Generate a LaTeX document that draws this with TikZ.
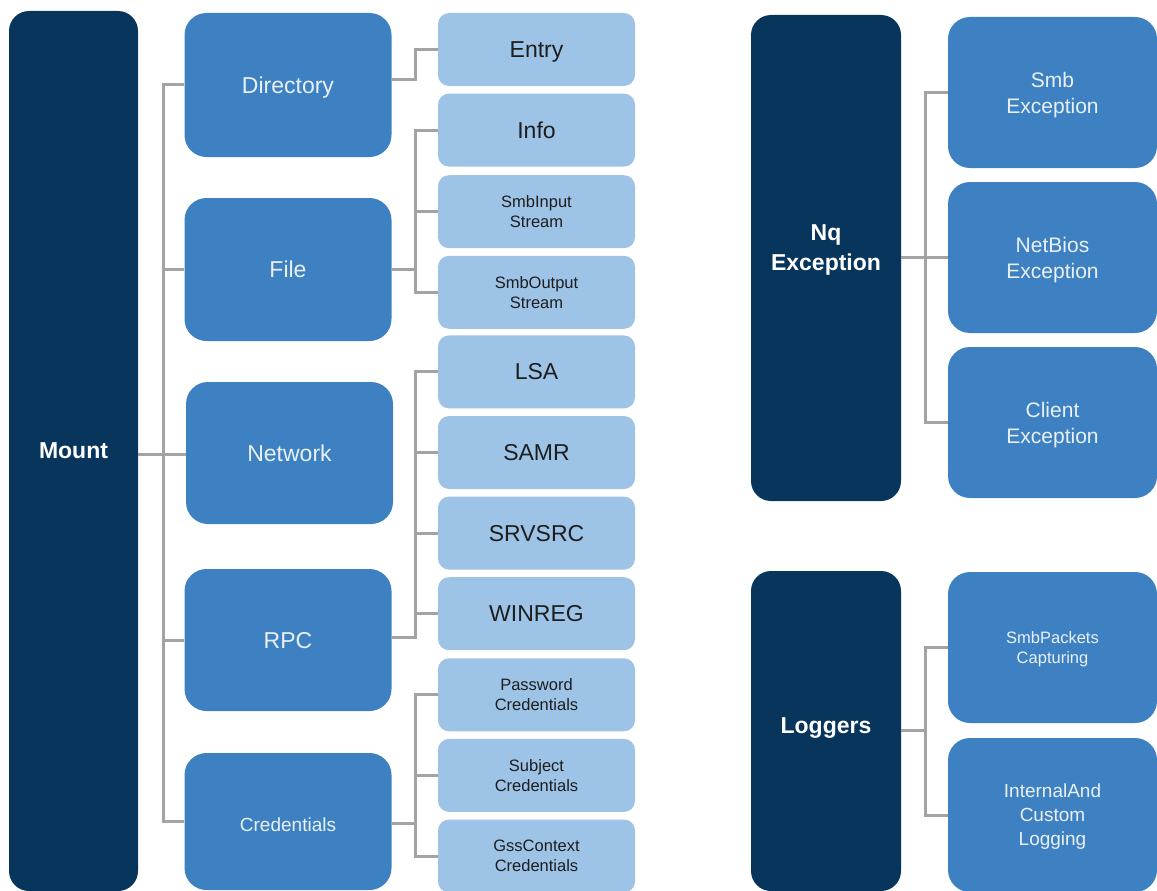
\documentclass[tikz,border=0pt]{standalone}
\usepackage{fontspec}
\setmainfont{Liberation Sans}
\definecolor{navy}{HTML}{08355C}
\definecolor{midblue}{HTML}{3D81C2}
\definecolor{lightblue}{HTML}{9DC3E6}
\definecolor{linegrey}{HTML}{A3A3A3}
\definecolor{midtext}{HTML}{EAF0F6}
\definecolor{lighttext}{HTML}{1E1E1E}
\tikzset{
  box/.style={rectangle, inner sep=0pt, align=center},
  darkbox/.style={box, fill=navy, text=white, rounded corners=20pt, font=\bfseries\fontsize{23}{30}\selectfont},
  midbox/.style={box, fill=midblue, text=midtext, rounded corners=22pt, minimum width=207pt, text depth=0pt},
  lightbox/.style={box, fill=lightblue, text=lighttext, rounded corners=11pt, minimum width=197pt, minimum height=73pt, text depth=0pt},
  conn/.style={draw=linegrey, line width=3pt},
  big/.style={font=\fontsize{23}{27}\selectfont},
  med/.style={font=\fontsize{19}{24}\selectfont},
  small/.style={font=\fontsize{16.5}{20}\selectfont},
  rfont/.style={font=\fontsize{21}{26}\selectfont},
}
\begin{document}
\begin{tikzpicture}[x=1pt,y=-1pt]
\useasboundingbox (0,0) rectangle (1157,891);
\clip (0,0) rectangle (1157,891);
% left tree
\node[darkbox, minimum width=129pt, minimum height=880pt] (mount) at (73.5,451) {Mount};
\node[midbox, minimum height=144pt, big] (dir) at (288,85) {Directory};
\node[midbox, minimum height=143pt, big] (file) at (288,269.5) {File};
\node[midbox, minimum height=142pt, big] (net) at (289.5,453) {Network};
\node[midbox, minimum height=142pt, big] (rpc) at (288,640) {RPC};
\node[midbox, minimum height=137pt, med, text height=19pt] (cred) at (288,821.5) {Credentials};
\node[lightbox, big] (entry) at (536.5,49.5) {Entry};
\node[lightbox, big] (info) at (536.5,130.1) {Info};
\node[lightbox, small] (sin) at (536.5,211.7) {SmbInput\\Stream};
\node[lightbox, small] (sout) at (536.5,292.3) {SmbOutput\\Stream};
\node[lightbox, big] (lsa) at (536.5,371.9) {LSA};
\node[lightbox, big] (samr) at (536.5,452.5) {SAMR};
\node[lightbox, big] (srv) at (536.5,533.1) {SRVSRC};
\node[lightbox, big] (winreg) at (536.5,613.7) {WINREG};
\node[lightbox, small] (pwd) at (536.5,694.8) {Password\\Credentials};
\node[lightbox, small] (subj) at (536.5,775.4) {Subject\\Credentials};
\node[lightbox, small] (gss) at (536.5,856) {GssContext\\Credentials};
% right trees
\node[darkbox, minimum width=150pt, minimum height=486pt, text depth=20pt] (nq) at (826,258) {Nq\\Exception};
\node[midbox, minimum width=209pt, minimum height=151pt, rfont] (smbex) at (1052.5,92.5) {Smb\\Exception};
\node[midbox, minimum width=209pt, minimum height=151pt, rfont] (nbex) at (1052.5,257.5) {NetBios\\Exception};
\node[midbox, minimum width=209pt, minimum height=151pt, rfont] (clex) at (1052.5,422.5) {Client\\Exception};
\node[darkbox, minimum width=150pt, minimum height=320pt, text depth=11pt] (log) at (826,731) {Loggers};
\node[midbox, minimum width=209pt, minimum height=151pt, small] (pkt) at (1052.5,647.5) {SmbPackets\\Capturing};
\node[midbox, minimum width=209pt, minimum height=154pt, font=\fontsize{19}{24}\selectfont] (intl) at (1052.5,815) {InternalAnd\\Custom\\Logging};
% junction columns
\coordinate (ta) at (163,0);
\coordinate (tb) at (415,0);
\coordinate (tc) at (925,0);
% Mount connectors
\coordinate (mj) at (163,454);
\draw[conn] (mount.east |- mj) -- (net.west |- mj);
\draw[conn] (dir.west) -| (ta |- cred.west) -- (cred.west);
\draw[conn] (ta |- file.west) -- (file.west);
\draw[conn] (ta |- rpc.west) -- (rpc.west);
% Directory
\coordinate (dj) at (415,80);
\draw[conn] (dir.east |- dj) -- (dj) |- (entry.west);
% File
\draw[conn] (info.west) -| (tb |- sout.west) -- (sout.west);
\draw[conn] (tb |- sin.west) -- (sin.west);
\draw[conn] (file.east) -- (tb |- file.east);
% RPC
\coordinate (rj) at (415,637);
\draw[conn] (lsa.west) -| (rj) -- (rpc.east |- rj);
\draw[conn] (tb |- samr.west) -- (samr.west);
\draw[conn] (tb |- srv.west) -- (srv.west);
\draw[conn] (tb |- winreg.west) -- (winreg.west);
% Credentials
\coordinate (cj) at (415,823);
\draw[conn] (pwd.west) -| (tb |- gss.west) -- (gss.west);
\draw[conn] (tb |- subj.west) -- (subj.west);
\draw[conn] (cred.east |- cj) -- (cj);
% Nq
\draw[conn] (smbex.west) -| (tc |- clex.west) -- (clex.west);
\draw[conn] (nq.east |- nbex.west) -- (nbex.west);
% Loggers
\coordinate (lj) at (925,730);
\draw[conn] (pkt.west) -| (tc |- intl.west) -- (intl.west);
\draw[conn] (log.east |- lj) -- (lj);
\end{tikzpicture}
\end{document}
